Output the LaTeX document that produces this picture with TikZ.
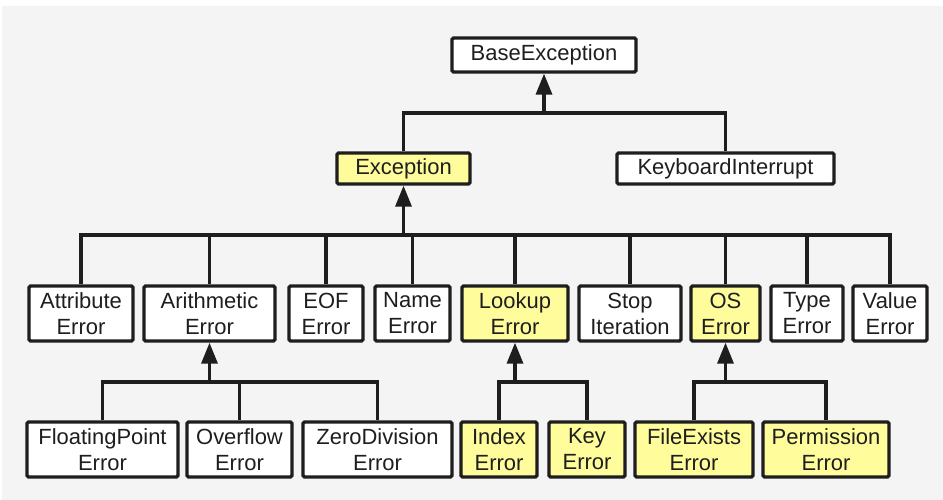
\documentclass[tikz,border=0pt]{standalone}
\usepackage{fontspec}
\setmainfont{Liberation Sans}
\usetikzlibrary{arrows.meta,positioning}
\definecolor{bggray}{RGB}{244,244,244}
\definecolor{hlyellow}{RGB}{255,252,155}
\definecolor{ink}{RGB}{30,30,30}
\tikzset{
  cls/.style={draw=ink, line width=1.9pt, fill=white, rounded corners=0.8pt, align=center,
    minimum height=1.1cm, inner sep=0pt, text=ink, font=\fontsize{12.5}{14.8}\selectfont},
  hl/.style={cls, fill=hlyellow},
  link/.style={draw=ink, line width=1.9pt},
  inh/.style={link, -{Triangle[length=0.42cm,width=0.32cm]}},
}

\begin{document}
\begin{tikzpicture}
  % Background
  \fill[white] (0,0) rectangle (18.86,10);
  \fill[bggray] (0.04,0) rectangle (18.86,9.88);

  % Top level
  \node[cls, minimum width=3.68cm, minimum height=0.68cm] (base) at (10.88,8.9) {BaseException};
  \node[hl, minimum width=2.66cm, minimum height=0.62cm] (exc) at (8.07,6.63) {Exception};
  \node[cls, minimum width=4.34cm, minimum height=0.62cm] (kbi) at (14.51,6.63) {KeyboardInterrupt};

  % Middle row
  \node[cls, minimum width=2.08cm] (attr) at (1.62,3.73) {Attribute\\Error};
  \node[cls, minimum width=2.62cm] (arith) at (4.19,3.73) {Arithmetic\\Error};
  \node[cls, minimum width=1.48cm] (eof) at (6.52,3.73) {EOF\\Error};
  \node[cls, minimum width=1.50cm] (name) at (8.25,3.73) {Name\\Error};
  \node[hl, minimum width=2.12cm] (lookup) at (10.30,3.73) {Lookup\\Error};
  \node[cls, minimum width=2.04cm] (stop) at (12.60,3.73) {Stop\\Iteration};
  \node[hl, minimum width=1.38cm] (os) at (14.51,3.73) {OS\\Error};
  \node[cls, minimum width=1.44cm] (type) at (16.14,3.73) {Type\\Error};
  \node[cls, minimum width=1.48cm] (value) at (17.80,3.73) {Value\\Error};

  % Bottom row
  \node[cls, minimum width=3.02cm] (float) at (2.05,1.01) {FloatingPoint\\Error};
  \node[cls, minimum width=2.10cm] (overflow) at (4.79,1.01) {Overflow\\Error};
  \node[cls, minimum width=2.98cm] (zerodiv) at (7.55,1.01) {ZeroDivision\\Error};
  \node[hl, minimum width=1.52cm] (index) at (9.98,1.01) {Index\\Error};
  \node[hl, minimum width=1.52cm] (key) at (11.74,1.01) {Key\\Error};
  \node[hl, minimum width=2.36cm] (fileex) at (13.88,1.01) {FileExists\\Error};
  \node[hl, minimum width=2.52cm] (perm) at (16.52,1.01) {Permission\\Error};

  % Bus heights
  \coordinate (j0) at (0,7.74);
  \coordinate (j1) at (0,5.30);
  \coordinate (j2) at (0,2.36);

  % BaseException subclasses
  \draw[link] (exc.north) |- (kbi.north |- j0) -- (kbi.north);
  \draw[inh] (base.south |- j0) -- (base.south);

  % Exception subclasses
  \draw[link] (attr.north) |- (value.north |- j1) -- (value.north);
  \foreach \n in {arith,eof,name,lookup,stop,os,type}
    \draw[link] (\n.north) -- (\n.north |- j1);
  \draw[inh] (exc.south |- j1) -- (exc.south);

  % ArithmeticError subclasses
  \draw[link] (float.north) |- (zerodiv.north |- j2) -- (zerodiv.north);
  \draw[link] (overflow.north) -- (overflow.north |- j2);
  \draw[inh] (arith.south |- j2) -- (arith.south);

  % LookupError subclasses
  \draw[link] (index.north) |- (key.north |- j2) -- (key.north);
  \draw[inh] (lookup.south |- j2) -- (lookup.south);

  % OSError subclasses
  \draw[link] (fileex.north) |- (perm.north |- j2) -- (perm.north);
  \draw[inh] (os.south |- j2) -- (os.south);
\end{tikzpicture}
\end{document}
